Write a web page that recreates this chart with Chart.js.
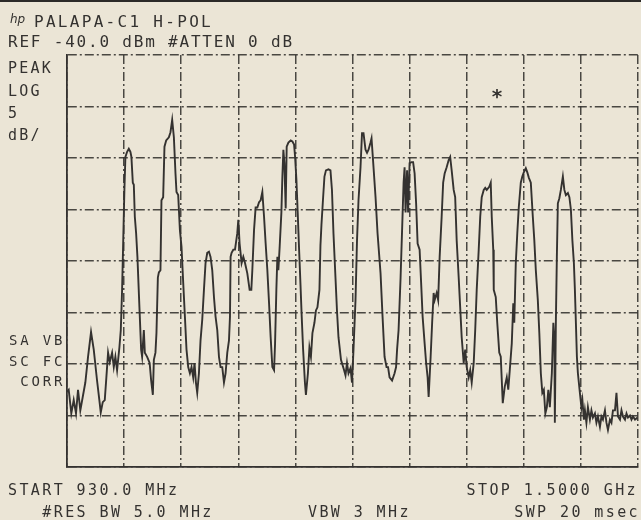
<!DOCTYPE html>
<html>
<head>
<meta charset="utf-8">
<script src="https://cdn.jsdelivr.net/npm/chart.js@4/dist/chart.umd.min.js"></script>
<style>
  html, body { margin: 0; padding: 0; background: #ebe5d6; }
  canvas { display: block; }
</style>
</head>
<body>
<canvas id="spectrum" width="641" height="520"></canvas>
<script>
// Spectrum analyzer plot: PALAPA-C1 H-POL, 930 MHz - 1.5 GHz, 5 dB/div

const startMHz = 930;
const stopMHz = 1500;
const mhzPerDiv = 57;
const refDbm = -40;
const dbPerDiv = 5;
const bottomDbm = -80;

// trace (MHz, dBm)
const freqMHz = [
  930, 931.7, 934.3, 936.7, 939, 941, 943.3, 945.7, 948.3, 951, 954, 956.7, 960, 962.3, 963.7, 965.7, 967.7, 969.3, 971, 972.7,
  975, 976.7, 978.3, 980, 982.3, 983.7, 985, 986, 987.3, 988.3, 990, 991.7, 993.3, 994.3, 995.7, 996.7, 997.7, 999, 1000.3, 1002.3,
  1004, 1005, 1006.7, 1007.7, 1010, 1012.5, 1014, 1015.7, 1016.7, 1018.3, 1019.3, 1020.7, 1021.7, 1023.3, 1024.3, 1026, 1027.3, 1029, 1031.7, 1033.3,
  1035, 1036.7, 1038.3, 1039.3, 1041, 1042.7, 1044.3, 1046, 1047.7, 1049.3, 1051, 1052.7, 1054.3, 1056, 1057.3, 1058.7, 1060, 1061.7, 1063.3, 1065,
  1066.7, 1068.3, 1070, 1071.7, 1073.3, 1075, 1076.7, 1078.3, 1080, 1081.7, 1083.3, 1085, 1086.7, 1088.3, 1090, 1091.7, 1092.7, 1093.3, 1094.3, 1096,
  1097.7, 1100, 1101, 1102.3, 1104.3, 1106, 1107.7, 1110, 1112.3, 1114, 1115, 1116.7, 1118.3, 1120, 1121.7, 1123.3, 1125, 1126.7, 1128.3, 1130,
  1131.7, 1133.3, 1135, 1136.7, 1137.7, 1139, 1140, 1141, 1142.3, 1144, 1145, 1146, 1147, 1148.3, 1149.3, 1151, 1153.3, 1155, 1156.7, 1157.7,
  1159, 1160.3, 1161.7, 1163, 1164.3, 1165.7, 1167.5, 1168.5, 1170.5, 1172, 1173.5, 1175, 1177, 1178.5, 1180, 1182, 1183, 1184, 1185.5, 1187,
  1188.5, 1191, 1193, 1194.5, 1196, 1198, 1199.5, 1201, 1203.5, 1206, 1208, 1209.5, 1211, 1213, 1214.5, 1216, 1218, 1219.5, 1221, 1223,
  1224.5, 1226, 1228, 1229.5, 1231, 1233, 1234, 1235.5, 1238, 1240, 1243, 1245, 1247, 1249, 1250.5, 1252, 1254.5, 1257, 1258.5, 1259.5,
  1261, 1263, 1264.5, 1266, 1267, 1268, 1268.5, 1269.5, 1270.5, 1272, 1274, 1275.5, 1277, 1278.5, 1280, 1282, 1283.5, 1285, 1287, 1288.5,
  1290, 1291, 1293, 1294.5, 1296, 1297, 1299, 1300.5, 1302, 1304, 1305.5, 1307, 1309, 1311, 1312.5, 1314, 1316, 1317.5, 1319, 1321,
  1322.5, 1324, 1326, 1327.5, 1329, 1331, 1332.5, 1334, 1336, 1337.5, 1339, 1341, 1342.5, 1344, 1346, 1347.5, 1349, 1351.5, 1353, 1354,
  1355.5, 1356, 1358, 1359.5, 1361.5, 1363, 1365, 1367, 1369, 1370.5, 1372, 1374, 1375.5, 1376.5, 1378, 1379.5, 1381, 1383, 1384.5, 1386,
  1388, 1389.5, 1391, 1393, 1395, 1396.5, 1398, 1400, 1401.5, 1403, 1404.5, 1406, 1407.5, 1409, 1410.5, 1412, 1414, 1415.5, 1416.5, 1417,
  1418, 1419, 1420, 1421.5, 1423, 1425, 1426.5, 1428, 1430, 1431.5, 1433, 1434.5, 1436, 1437, 1438, 1439, 1440, 1442, 1443.5, 1444.5,
  1446, 1447, 1448.5, 1450, 1452, 1453.5, 1455, 1457, 1458.5, 1460, 1462, 1463.5, 1465, 1467, 1468.5, 1470, 1472, 1473.5, 1475, 1477,
  1478.5, 1480, 1482, 1483.5, 1485, 1487, 1488.5, 1490, 1492, 1493.5, 1495, 1497, 1499.5
];
const levelDbm = [
  -72.7, -72.5, -74.8, -73.5, -74.8, -72.5, -74.5, -73.2, -71.8, -69.3, -66.9, -68.6, -71.6, -73.5, -74.7, -73.7, -73.5, -71.3, -68.9, -69.8,
  -68.9, -70.3, -69.3, -70.6, -68.4, -66.7, -62.8, -58.6, -53.1, -49.9, -49.4, -49.1, -49.4, -49.9, -52.4, -52.6, -55.7, -57.3, -59.6, -64.5,
  -68.6, -69.3, -66.7, -68.9, -69.3, -69.9, -71.6, -73.0, -69.6, -68.9, -67.0, -61.6, -61.1, -60.9, -54.1, -53.8, -48.9, -48.3, -48.0, -47.5,
  -46.3, -48.0, -51.5, -53.3, -53.6, -57.0, -58.6, -62.1, -65.4, -68.6, -70.3, -70.9, -70.3, -71.3, -69.9, -71.8, -72.8, -70.9, -67.7, -65.7,
  -62.8, -60.2, -59.2, -59.1, -59.6, -60.9, -63.5, -65.4, -66.7, -69.3, -70.3, -70.3, -71.8, -70.9, -68.9, -67.7, -65.4, -59.6, -59.2, -58.9,
  -58.9, -57.3, -56.0, -58.3, -60.2, -59.6, -60.2, -61.2, -62.8, -62.8, -60.9, -57.0, -54.8, -54.8, -54.3, -54.1, -53.3, -55.7, -58.3, -60.9,
  -64.1, -67.4, -70.3, -70.6, -68.0, -62.8, -59.6, -60.9, -58.6, -55.3, -51.8, -49.2, -50.5, -54.9, -48.9, -48.5, -48.3, -48.4, -48.7, -49.9,
  -52.1, -55.3, -58.9, -62.1, -65.4, -68.6, -71.8, -73.0, -70.9, -68.4, -69.3, -67.0, -66.0, -64.8, -64.5, -62.8, -58.5, -56.5, -54.1, -51.8,
  -51.2, -51.1, -51.2, -53.1, -57.3, -61.6, -64.8, -67.4, -69.6, -70.4, -71.1, -69.9, -70.9, -70.4, -71.8, -68.6, -63.8, -58.0, -54.1, -50.9,
  -47.6, -47.6, -49.2, -49.5, -49.2, -48.5, -48.1, -50.2, -53.8, -57.3, -61.2, -65.4, -69.3, -70.3, -70.3, -71.3, -71.6, -70.9, -70.3, -68.6,
  -66.7, -61.6, -57.0, -52.4, -50.9, -55.3, -53.8, -51.2, -55.3, -50.5, -50.4, -50.4, -51.5, -54.4, -58.3, -58.9, -62.1, -65.4, -68.0, -69.9,
  -71.3, -73.2, -69.3, -66.0, -63.1, -63.8, -63.1, -63.8, -59.6, -55.7, -52.4, -51.5, -50.9, -50.2, -49.9, -51.2, -53.1, -53.8, -58.0, -61.6,
  -64.5, -67.4, -69.9, -68.6, -70.3, -71.3, -70.6, -71.8, -69.9, -66.7, -62.8, -58.9, -55.7, -53.8, -53.1, -52.9, -53.1, -52.8, -52.4, -55.7,
  -58.9, -62.8, -63.5, -66.0, -68.9, -69.3, -73.8, -72.2, -71.3, -72.5, -70.6, -68.0, -64.1, -66.0, -60.2, -57.3, -54.8, -52.4, -51.8, -51.4,
  -51.0, -51.4, -51.9, -52.4, -55.7, -58.0, -60.9, -63.8, -67.0, -70.9, -72.8, -72.5, -74.8, -74.2, -72.5, -74.2, -70.9, -66.0, -67.7, -75.7,
  -66.0, -59.6, -54.4, -53.9, -53.1, -51.8, -53.1, -53.6, -53.4, -53.8, -55.0, -58.0, -60.2, -62.8, -66.0, -69.3, -70.9, -72.8, -74.2, -73.5,
  -75.4, -74.5, -75.7, -74.2, -75.4, -74.5, -75.2, -74.8, -75.7, -75.1, -76.1, -75.1, -75.4, -74.5, -75.7, -76.4, -75.4, -75.7, -74.5, -74.5,
  -72.8, -75.1, -75.4, -74.5, -75.1, -75.4, -74.8, -75.2, -75.0, -75.4, -75.1, -75.4, -75.2
];

// annotation text printed by the plotter
const headerLines = ['PALAPA-C1 H-POL', 'REF -40.0 dBm #ATTEN 0 dB'];
const leftLabels = ['PEAK', 'LOG', '5', 'dB/'];
const correctionLabels = ['SA VB', 'SC FC', ' CORR'];
const footerLeft = ['START 930.0 MHz', '   #RES BW 5.0 MHz'];
const footerMid = 'VBW 3 MHz';
const footerRight = ['STOP 1.5000 GHz', 'SWP 20 msec'];

const ink = '#343230';
const gridInk = 'rgba(55, 53, 50, 0.9)';

const plotterText = {
  id: 'plotterText',
  afterDraw(chart) {
    const ctx = chart.ctx;
    ctx.save();
    ctx.fillStyle = ink;
    ctx.textBaseline = 'alphabetic';

    // hp logo
    ctx.font = 'italic 12px "DejaVu Sans"';
    ctx.letterSpacing = '0px';
    ctx.fillText('hp', 10, 23);

    ctx.font = '16px "DejaVu Sans Mono"';
    ctx.letterSpacing = '2.3px';
    ctx.fillText(headerLines[0], 34, 27);
    ctx.letterSpacing = '1.8px';
    ctx.fillText(headerLines[1], 8, 47);

    ctx.font = '15px "DejaVu Sans Mono"';
    ctx.letterSpacing = '2.2px';
    const ys = [73, 96, 118, 140];
    leftLabels.forEach((t, i) => ctx.fillText(t, 8, ys[i]));

    ctx.font = '14px "DejaVu Sans Mono"';
    ctx.letterSpacing = '2.8px';
    const cy = [345, 366, 386];
    correctionLabels.forEach((t, i) => ctx.fillText(t, 9, cy[i]));

    ctx.font = '15px "DejaVu Sans Mono"';
    ctx.letterSpacing = '2.4px';
    ctx.fillText(footerLeft[0], 8, 495);
    ctx.fillText(footerLeft[1], 8, 517);
    ctx.fillText(footerMid, 308, 517);
    ctx.textAlign = 'right';
    ctx.fillText(footerRight[0], 638, 495);
    ctx.fillText(footerRight[1], 640, 517);

    // marker star above the display
    ctx.textAlign = 'center';
    ctx.font = 'bold 20px "DejaVu Sans Mono"';
    ctx.letterSpacing = '0px';
    ctx.fillText('*', 497, 103);

    // scan edge at top
    ctx.fillStyle = '#2b2a28';
    ctx.fillRect(0, 0, 641, 2);
    ctx.restore();
  }
};

const ctx = document.getElementById('spectrum').getContext('2d');

new Chart(ctx, {
  type: 'line',
  data: {
    labels: freqMHz,
    datasets: [{
      data: freqMHz.map((f, i) => ({ x: f, y: levelDbm[i] })),
      borderColor: ink,
      borderWidth: 1.9,
      pointRadius: 0,
      tension: 0,
      fill: false
    }]
  },
  options: {
    responsive: false,
    animation: false,
    layout: {
      padding: { left: 67, top: 55, right: 3, bottom: 53 }
    },
    plugins: {
      legend: { display: false },
      tooltip: { enabled: false }
    },
    scales: {
      x: {
        type: 'linear',
        min: startMHz,
        max: stopMHz,
        ticks: { display: false, stepSize: mhzPerDiv },
        grid: { color: gridInk, lineWidth: 1.5, drawTicks: false },
        border: { color: ink, width: 1.8, dash: [9, 3, 2, 3] }
      },
      y: {
        min: bottomDbm,
        max: refDbm,
        ticks: { display: false, stepSize: dbPerDiv },
        grid: { color: gridInk, lineWidth: 1.5, drawTicks: false },
        border: { color: ink, width: 1.8, dash: [9, 3, 2, 3] }
      }
    }
  },
  plugins: [plotterText]
});
</script>
</body>
</html>
